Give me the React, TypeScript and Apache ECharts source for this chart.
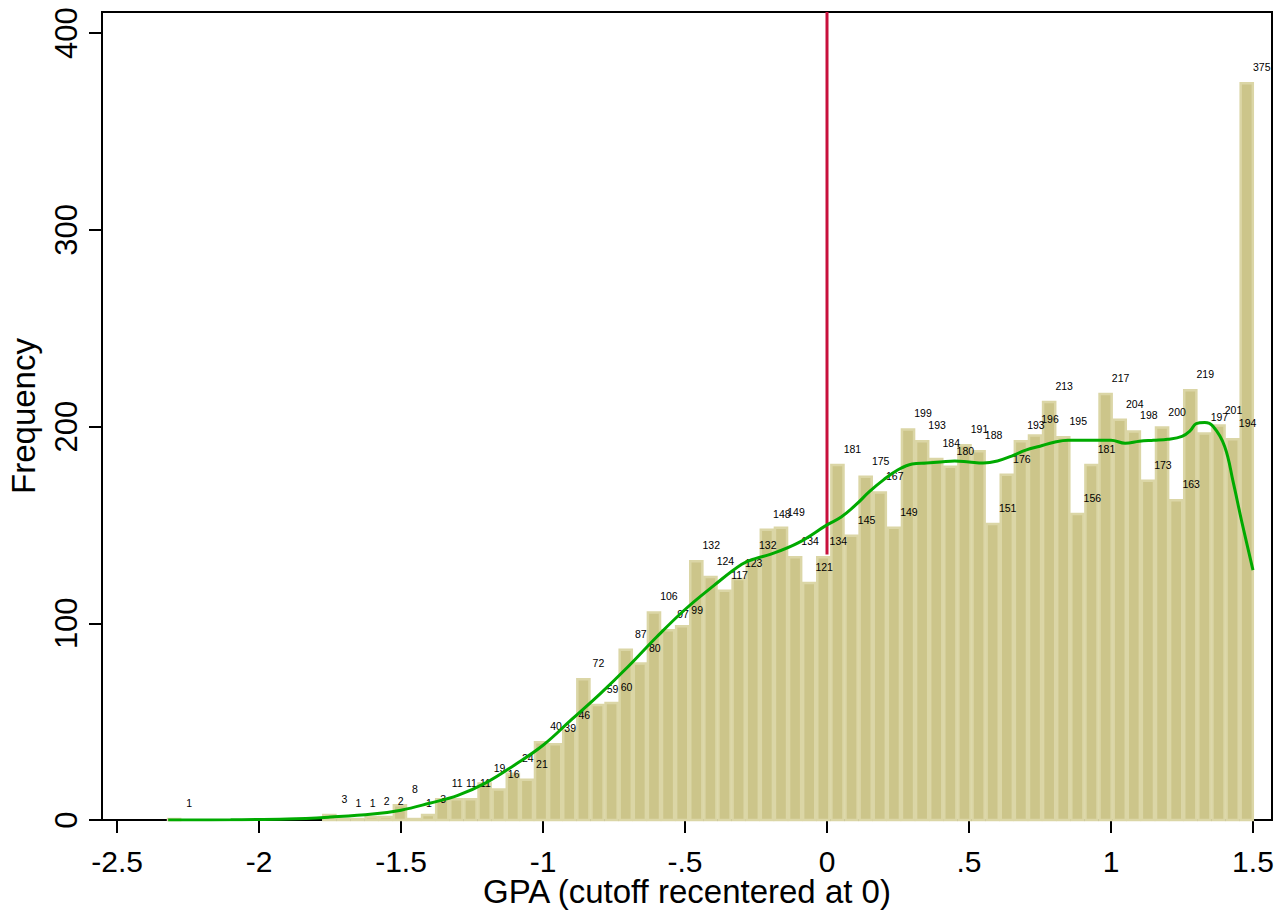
import React, { useEffect, useRef } from "react";
import * as echarts from "echarts";

// Histogram bins (GPA recentered at cutoff 0)
const binStart = -2.324;
const binWidth = 0.0497;
const counts = [
  1, 0, 0, 0, 0, 0, 0, 0, 0, 0, 0,
  3, 1, 1, 2, 2, 8, 1, 3,
  11, 11, 11, 19, 16, 24, 21,
  40, 39, 46, 72, 59, 60, 87, 80,
  106, 97, 99, 132, 124, 117, 123, 132,
  148, 149, 134, 121, 134,
  181, 145, 175, 167, 149,
  199, 193, 184, 180, 191, 188,
  151, 176, 193, 196, 213, 195,
  156, 181, 217, 204, 198, 173,
  200, 163, 219, 197, 201, 194, 375,
];

// Kernel density (scaled to frequency)
const densX = [
  -2.32, -2.1, -1.9, -1.75, -1.6, -1.5, -1.4, -1.3, -1.2, -1.1, -1.0, -0.9, -0.8,
  -0.7, -0.6, -0.5, -0.4, -0.3, -0.25, -0.2, -0.1, 0, 0.05, 0.1, 0.15, 0.2, 0.25,
  0.3, 0.35, 0.4, 0.45, 0.5, 0.55, 0.6, 0.65, 0.7, 0.75, 0.8, 0.85, 0.9, 0.95, 1.0,
  1.05, 1.1, 1.15, 1.2, 1.25, 1.28, 1.3, 1.33, 1.36, 1.4, 1.43, 1.46, 1.5,
];
const densY = [
  0, 0.1, 0.5, 1.5, 3, 5, 8.5, 12.5, 19, 28, 38, 51, 64,
  78, 93, 107, 119, 130, 133, 135, 141, 150, 154, 160, 167, 173, 178,
  181, 181.5, 182, 182.5, 182, 181.5, 182.5, 185, 188, 190, 192, 193, 193, 193, 193,
  191.5, 192.5, 193, 193.5, 195, 198, 201.5, 202, 200, 190, 172, 152, 127,
];

const cutoff = 0;
const cutoffLineBottom = 135;
const xTicks = [-2.5, -2, -1.5, -1, -0.5, 0, 0.5, 1, 1.5];
const yTicks = [0, 100, 200, 300, 400];
const xMin = -2.553;
const xMax = 1.567;
const yMin = 0;
const yMax = 410.7;

const FONT = "'Liberation Sans', Arial, Helvetica, sans-serif";

function fmtX(v: number): string {
  if (v === 0) return "0";
  const a = Math.abs(v);
  let s = String(a);
  if (a < 1) s = s.replace(/^0/, "");
  return (v < 0 ? "-" : "") + s;
}

export default function App() {
  const ref = useRef<HTMLDivElement>(null);
  useEffect(() => {
    if (!ref.current) return;
    const chart = echarts.init(ref.current, undefined, { renderer: "svg" });
    const barData = counts
      .map((c, i) => [binStart + i * binWidth, binStart + (i + 1) * binWidth, c])
      .filter((d) => d[2] > 0);

    chart.setOption({
      animation: false,
      backgroundColor: "#ffffff",
      grid: {
        left: 102,
        top: 12,
        width: 1170,
        height: 808,
        containLabel: false,
        outerBoundsMode: "none",
        show: true,
        borderColor: "#000",
        borderWidth: 2,
        backgroundColor: "transparent",
      },
      xAxis: {
        type: "value",
        min: xMin,
        max: xMax,
        axisLine: { show: true, onZero: false, lineStyle: { color: "#000", width: 2 } },
        axisTick: { show: true, length: 13, lineStyle: { color: "#000", width: 2 }, customValues: xTicks },
        axisLabel: {
          customValues: xTicks,
          formatter: (v: number) => fmtX(v),
          fontSize: 30,
          lineHeight: 23,
          color: "#000",
          fontFamily: FONT,
          margin: 30,
        },
        splitLine: { show: false },
        name: "GPA (cutoff recentered at 0)",
        nameLocation: "middle",
        nameGap: 58,
        nameMoveOverlap: false,
        nameTextStyle: { fontSize: 33, lineHeight: 26, color: "#000", fontFamily: FONT },
      },
      yAxis: {
        type: "value",
        min: yMin,
        max: yMax,
        axisLine: { show: true, onZero: false, lineStyle: { color: "#000", width: 2 } },
        axisTick: { show: true, length: 13, lineStyle: { color: "#000", width: 2 }, customValues: yTicks },
        axisLabel: {
          customValues: yTicks,
          rotate: 90,
          fontSize: 31,
          color: "#000",
          fontFamily: FONT,
          margin: 20,
        },
        splitLine: { show: false },
        name: "Frequency",
        nameLocation: "middle",
        nameGap: 62,
        nameMoveOverlap: false,
        nameTextStyle: { fontSize: 33, color: "#000", fontFamily: FONT },
      },
      series: [
        {
          type: "custom",
          data: barData,
          encode: { x: [0, 1], y: 2 },
          renderItem: (params: any, api: any) => {
            const x0 = api.value(0);
            const x1 = api.value(1);
            const v = api.value(2);
            const pTop = api.coord([x0, v]);
            const pBot = api.coord([x1, 0]);
            return {
              type: "rect",
              shape: {
                x: pTop[0] + 1,
                y: pTop[1] + 1,
                width: pBot[0] - pTop[0] - 2,
                height: Math.max(pBot[1] - pTop[1] - 1, 0),
              },
              style: { fill: "#ccc58a", stroke: "#dbd6a6", lineWidth: 2.5 },
            };
          },
          z: 2,
        },
        {
          type: "custom",
          data: barData,
          encode: { x: [0, 1], y: 2 },
          renderItem: (params: any, api: any) => {
            const x0 = api.value(0);
            const x1 = api.value(1);
            const v = api.value(2);
            const pTop = api.coord([x0, v]);
            const pBot = api.coord([x1, 0]);
            const cx = (pTop[0] + pBot[0]) / 2;
            return {
              type: "text",
              x: cx + 15,
              y: pTop[1] - 15,
              style: {
                text: String(v),
                align: "center",
                verticalAlign: "middle",
                fontSize: 10.5,
                fontFamily: FONT,
                fill: "#000",
              },
            };
          },
          z: 3,
        },
        {
          type: "line",
          data: densX.map((x, i) => [x, densY[i]]),
          smooth: 0.4,
          showSymbol: false,
          symbol: "none",
          lineStyle: { color: "#00aa00", width: 3 },
          z: 4,
        },
        {
          type: "line",
          data: [
            [cutoff, cutoffLineBottom],
            [cutoff, yMax],
          ],
          showSymbol: false,
          symbol: "none",
          lineStyle: { color: "#c8103c", width: 3 },
          z: 3,
        },
      ],
    });
    return () => chart.dispose();
  }, []);
  return (
    <div
      ref={ref}
      style={{ position: "fixed", left: 0, top: 0, width: 1286, height: 915, background: "#fff" }}
    />
  );
}
